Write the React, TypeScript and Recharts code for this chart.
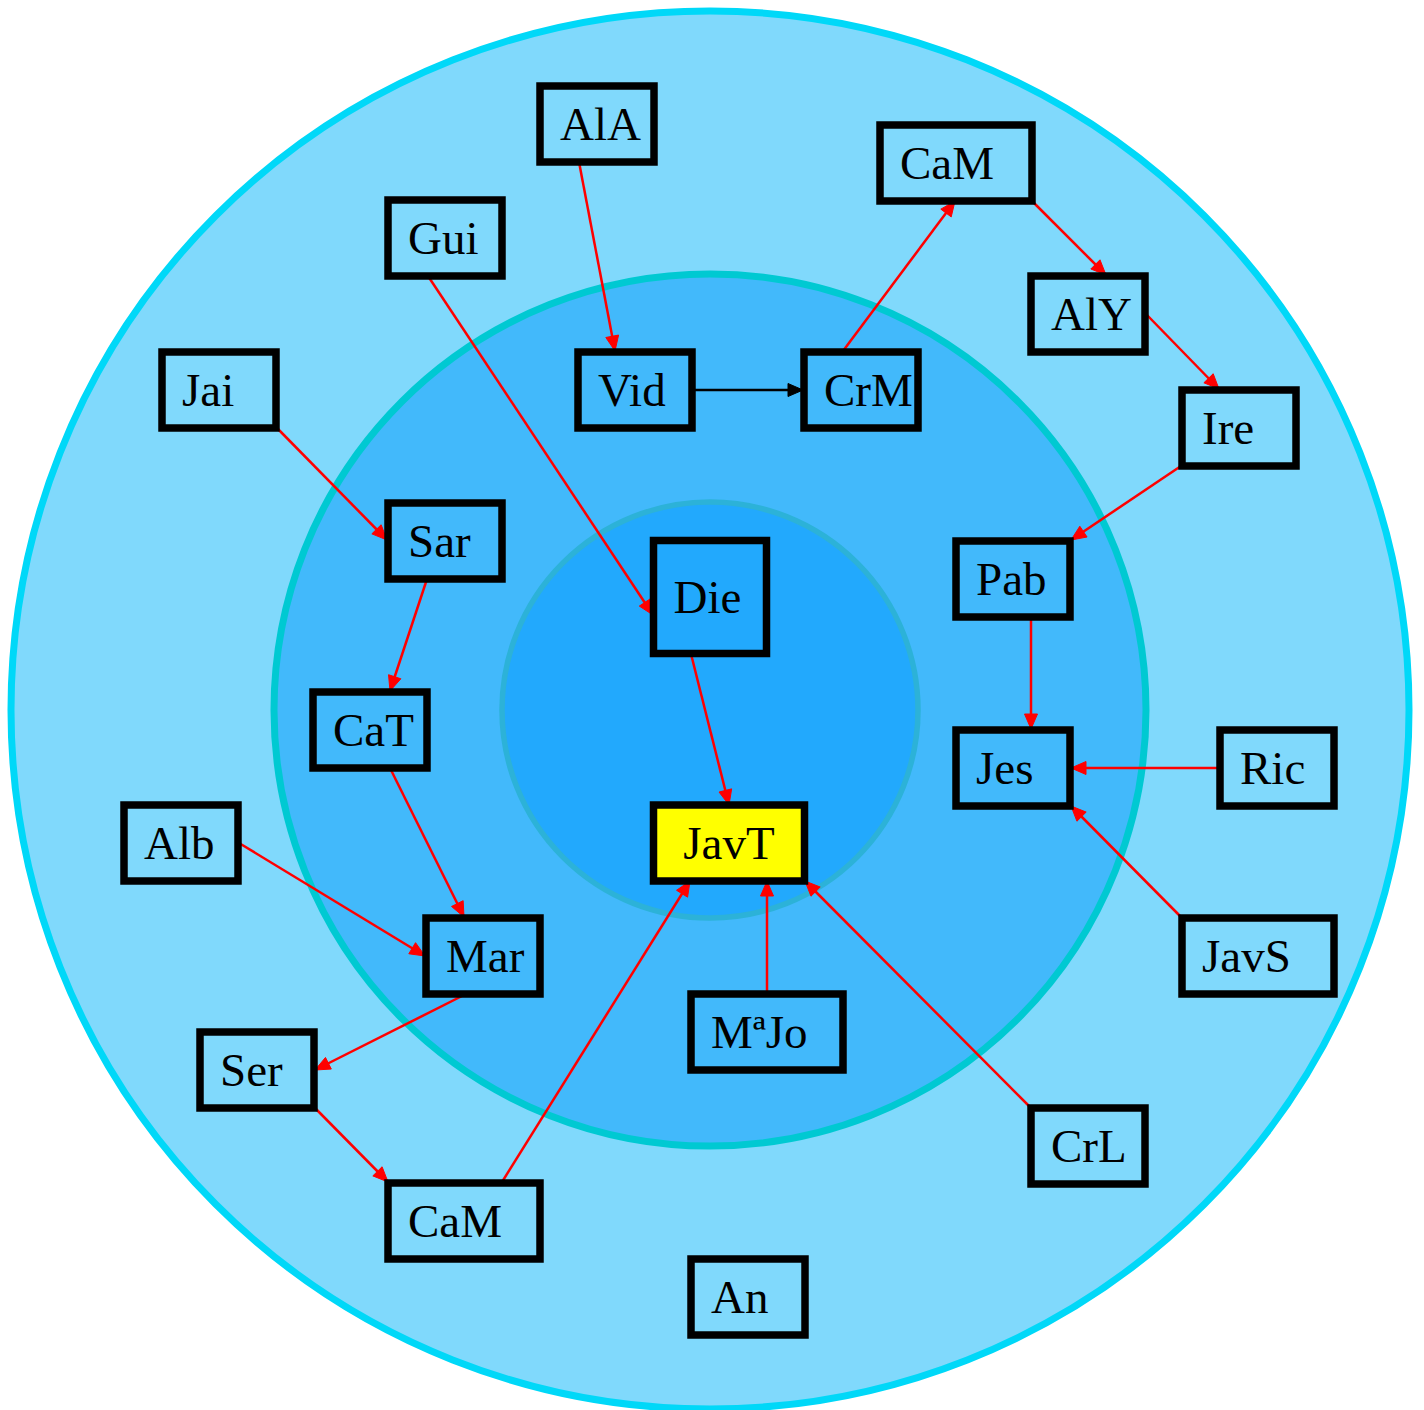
import React from 'react'
import {
  ScatterChart,
  Scatter,
  XAxis,
  YAxis,
  ReferenceDot,
} from 'recharts'

const W = 1424
const H = 1410

// rings (centre + radius, in chart units)
const ringRadius = [699, 436, 208]
const ringCenter = { x: 710, y: 710 }
const ringFill = ['#80d9fc', '#42b9fb', '#22a9fd']
const ringStroke = ['#00d8f8', '#00c9d2', '#2cb2d8']

// nodes
const nodeIds = ['AlA', 'CaM1', 'Gui', 'AlY', 'Jai', 'Vid', 'CrM', 'Ire', 'Sar', 'Die', 'Pab', 'CaT', 'Jes', 'Ric', 'Alb', 'JavT', 'Mar', 'JavS', 'MaJo', 'Ser', 'CrL', 'CaM2', 'An']
const nodeLabels = ['AlA', 'CaM', 'Gui', 'AlY', 'Jai', 'Vid', 'CrM', 'Ire', 'Sar', 'Die', 'Pab', 'CaT', 'Jes', 'Ric', 'Alb', 'JavT', 'Mar', 'JavS', 'MªJo', 'Ser', 'CrL', 'CaM', 'An']
const nodeX = [597, 956, 445, 1088, 219, 635, 861, 1239, 445, 710, 1013, 370, 1013, 1277, 181, 729, 483, 1258, 767, 257, 1088, 464, 748]
const nodeY = [124, 163, 238, 314, 390, 390, 390, 428, 541, 597, 579, 730, 768, 768, 843, 843, 956, 956, 1032, 1070, 1146, 1221, 1297]
const nodeKind = ['box', 'wide', 'box', 'box', 'box', 'box', 'box', 'box', 'box', 'square', 'box', 'box', 'box', 'box', 'box', 'focus', 'box', 'wide', 'wide', 'box', 'box', 'wide', 'box']

// edges
const edgeFrom = ['AlA', 'Vid', 'CrM', 'CaM1', 'AlY', 'Ire', 'Pab', 'Ric', 'JavS', 'Gui', 'Jai', 'Sar', 'CaT', 'Alb', 'Mar', 'Ser', 'CaM2', 'Die', 'MaJo', 'CrL']
const edgeTo = ['Vid', 'CrM', 'CaM1', 'AlY', 'Ire', 'Pab', 'Jes', 'Jes', 'Jes', 'Die', 'Sar', 'CaT', 'Mar', 'Mar', 'Ser', 'CaM2', 'JavT', 'JavT', 'JavT', 'JavT']
const edgeStart = [[579, 162], [693, 390], [843, 351], [1032, 201], [1146, 314], [1181, 466], [1031, 617], [1219, 768], [1181, 917], [428, 276], [277, 428], [427, 579], [390, 768], [239, 843], [464, 995], [315, 1108], [502, 1182], [691, 654], [767, 993], [1030, 1107]]
const edgeEnd = [[615, 351], [803, 390], [955, 201], [1106, 275], [1219, 389], [1071, 540], [1031, 729], [1071, 768], [1071, 806], [653, 615], [387, 540], [390, 691], [464, 917], [425, 956], [315, 1070], [388, 1182], [690, 881], [729, 805], [767, 881], [805, 881]]
const edgeKind = ['ind', 'dir', 'ind', 'ind', 'ind', 'ind', 'ind', 'ind', 'ind', 'ind', 'ind', 'ind', 'ind', 'ind', 'ind', 'ind', 'ind', 'ind', 'ind', 'ind']

const nodes = nodeIds.map((id, i) => ({ id, label: nodeLabels[i], x: nodeX[i], y: nodeY[i], kind: nodeKind[i] }))

const edges = edgeFrom.map((from, i) => {
  const [x1, y1] = edgeStart[i]
  const [x2, y2] = edgeEnd[i]
  return {
    key: `${from}-${edgeTo[i]}`,
    color: edgeKind[i] === 'dir' ? '#000000' : '#ff0000',
    points: [
      { x: x1, y: y1, end: false },
      // x/y axes share one unit per pixel, so the data direction is the drawn direction
      { x: x2, y: y2, end: true, dx: x2 - x1, dy: y2 - y1 },
    ],
  }
})

const boxSize: Record<string, [number, number]> = {
  box: [114, 76],
  wide: [152, 76],
  square: [113, 113],
  focus: [151, 76],
}

function NodeBox(props: any) {
  const { cx, cy, payload } = props
  const [w, h] = boxSize[payload.kind]
  const focus = payload.kind === 'focus'
  const left = cx - w / 2
  return (
    <g>
      <rect x={left} y={cy - h / 2} width={w} height={h} fill={focus ? '#ffff00' : 'none'} stroke="#000" strokeWidth={7.5} />
      <text
        x={focus ? cx : left + 20}
        y={cy + 16}
        textAnchor={focus ? 'middle' : 'start'}
        fontFamily='"Liberation Serif", "Times New Roman", serif'
        fontSize={47}
        fill="#000"
      >
        {payload.label}
      </text>
    </g>
  )
}

const makeArrowHead = (color: string) => (props: any) => {
  const { cx, cy, payload } = props
  if (!payload.end) return <g />
  const len = Math.sqrt(payload.dx * payload.dx + payload.dy * payload.dy) || 1
  const ux = payload.dx / len
  const uy = payload.dy / len
  const al = 15
  const hw = 6.5
  const bx = cx - ux * al
  const by = cy - uy * al
  return (
    <polygon
      points={`${cx},${cy} ${bx - uy * hw},${by + ux * hw} ${bx + uy * hw},${by - ux * hw}`}
      fill={color}
      stroke={color}
      strokeWidth={1}
    />
  )
}

export default function App() {
  return (
    <div style={{ position: 'absolute', left: 0, top: 0, width: W, height: H, background: '#fff' }}>
      <ScatterChart width={W} height={H} margin={{ top: 0, right: 0, bottom: 0, left: 0 }}>
        <XAxis type="number" dataKey="x" domain={[0, W]} hide />
        <YAxis type="number" dataKey="y" domain={[0, H]} reversed hide />
        {ringRadius.map((r, i) => (
          <ReferenceDot
            key={`ring-${i}`}
            x={ringCenter.x}
            y={ringCenter.y}
            r={r}
            fill={ringFill[i]}
            fillOpacity={1}
            stroke={ringStroke[i]}
            strokeWidth={i === 2 ? 5.5 : 7}
          />
        ))}
        {edges.map((e) => (
          <Scatter
            key={e.key}
            data={e.points}
            line={{ stroke: e.color, strokeWidth: 2.5 }}
            lineType="joint"
            shape={makeArrowHead(e.color)}
            isAnimationActive={false}
          />
        ))}
        <Scatter data={nodes} shape={NodeBox} isAnimationActive={false} />
      </ScatterChart>
    </div>
  )
}
